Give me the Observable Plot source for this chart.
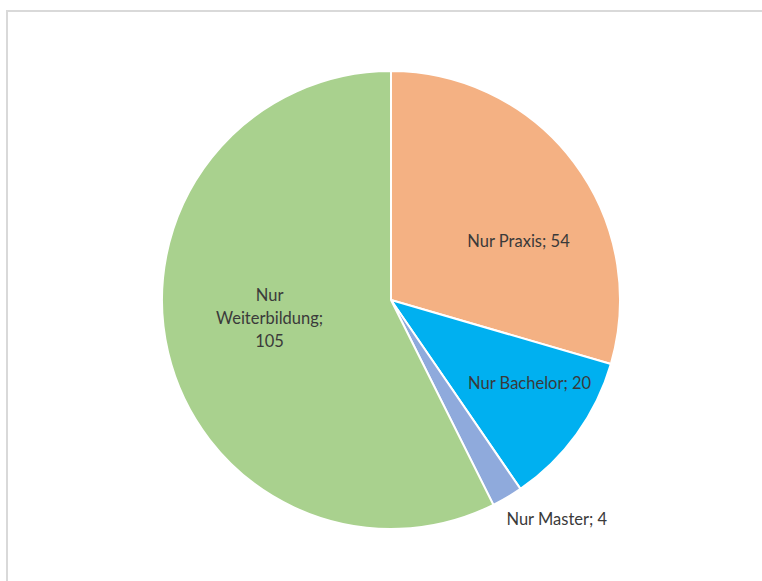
<!DOCTYPE html>
<html>
<head>
<meta charset="utf-8">
<script src="https://cdn.jsdelivr.net/npm/d3@7"></script>
<script src="https://cdn.jsdelivr.net/npm/@observablehq/plot@0.6"></script>
<style>
  html, body { margin: 0; padding: 0; background: #fff; overflow: hidden; }
  #wrap { position: relative; width: 762px; height: 581px; }
  #frame { position: absolute; left: 6px; top: 10px; width: 800px; height: 620px;
           border-left: 2px solid #d9d9d9; border-top: 2px solid #d9d9d9; box-sizing: border-box; }
  #chart { position: absolute; left: 0; top: 0; }
</style>
</head>
<body>
<div id="wrap"><div id="frame"></div><div id="chart"></div></div>
<script>
// Data
const categories = ["Nur Praxis", "Nur Bachelor", "Nur Master", "Nur Weiterbildung"];
const values = [54, 20, 4, 105];
const colors = ["#F4B183", "#00B0F0", "#8FAADC", "#A9D18E"];
const labelTexts = ["Nur Praxis; 54", "Nur Bachelor; 20", "Nur Master; 4", "Nur\nWeiterbildung;\n105"];
// label placement (angle in degrees clockwise from top, radius as fraction of pie radius)
const labelAngle = [64.4, 120.4, 142.7, 262.5];
const labelRadius = [0.615, 0.699, 1.191, 0.537];

const slices = categories.map((c, i) => ({category: c, value: values[i], label: labelTexts[i],
  la: labelAngle[i] * Math.PI / 180, lr: labelRadius[i]}));

const pie = d3.pie().value(d => d.value).sort(null)(slices);

const cx = 391, cy = 300, R = 229;

function pieMark(index, scales, vals, dimensions, context) {
  const x0 = scales.x(0), y0 = scales.y(0);
  const r = scales.x(1) - scales.x(0);
  const arc = d3.arc().innerRadius(0).outerRadius(r);
  const g = d3.create("svg:g").attr("transform", `translate(${x0},${y0})`);
  g.selectAll("path").data(pie).join("path")
    .attr("d", arc)
    .attr("fill", d => scales.color(d.data.category))
    .attr("stroke", "#fff")
    .attr("stroke-width", 2)
    .attr("stroke-linejoin", "round");
  return g.node();
}

const chart = Plot.plot({
  width: 762,
  height: 581,
  margin: 0,
  style: {background: "transparent", fontFamily: "Lato, 'Open Sans', sans-serif"},
  x: {domain: [-1, 1], range: [cx - R, cx + R], axis: null},
  y: {domain: [-1, 1], range: [cy + R, cy - R], axis: null},
  color: {domain: categories, range: colors, legend: false},
  marks: [
    Plot.dot(slices, {x: () => 0, y: () => 0, fill: "category", r: 1, fillOpacity: 0}),
    pieMark,
    Plot.text(slices, {
      x: d => d.lr * Math.sin(d.la),
      y: d => d.lr * Math.cos(d.la),
      text: "label",
      fill: "#3a3a3a",
      fontSize: 16.5,
      lineHeight: 1.4,
      textAnchor: "middle"
    })
  ]
});
document.getElementById("chart").appendChild(chart);
</script>
</body>
</html>
